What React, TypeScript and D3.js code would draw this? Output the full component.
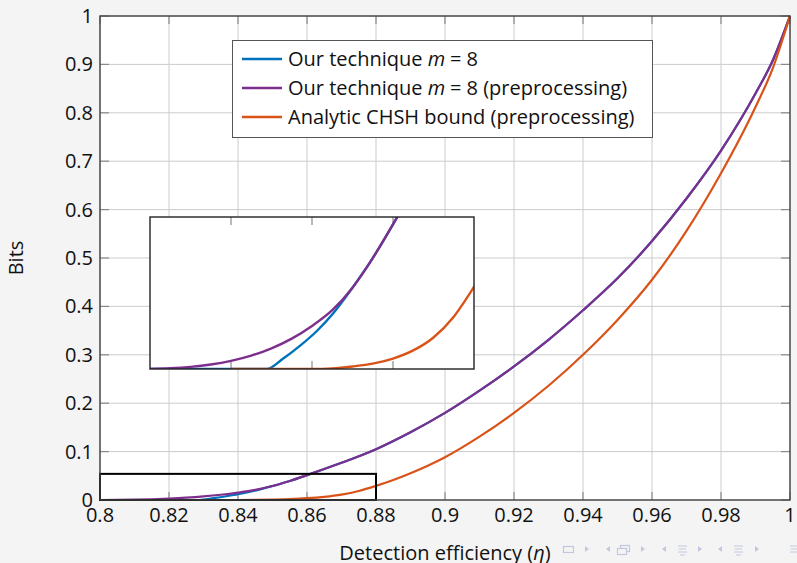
import React from 'react';
import * as d3 from 'd3';

const xTicks = [0.8, 0.82, 0.84, 0.86, 0.88, 0.9, 0.92, 0.94, 0.96, 0.98, 1];
const xTickLabels = ['0.8', '0.82', '0.84', '0.86', '0.88', '0.9', '0.92', '0.94', '0.96', '0.98', '1'];
const yTicks = [0, 0.1, 0.2, 0.3, 0.4, 0.5, 0.6, 0.7, 0.8, 0.9, 1];
const yTickLabels = ['0', '0.1', '0.2', '0.3', '0.4', '0.5', '0.6', '0.7', '0.8', '0.9', '1'];
const insetXTicks = [0.82, 0.84, 0.86];

const purpleEta = [0.8, 0.805, 0.81, 0.815, 0.82, 0.825, 0.83, 0.835, 0.84, 0.845, 0.85, 0.855, 0.86, 0.865, 0.87, 0.88, 0.89, 0.9, 0.91, 0.92, 0.93, 0.94, 0.95, 0.96, 0.97, 0.98, 0.99, 0.995, 1];
const purpleVal = [0, 0.00025, 0.00075, 0.0016, 0.0029, 0.00475, 0.00735, 0.0108, 0.0153, 0.0209, 0.0289, 0.0394, 0.0514, 0.0639, 0.0769, 0.105, 0.14, 0.18, 0.226, 0.276, 0.331, 0.392, 0.458, 0.535, 0.623, 0.722, 0.84, 0.908, 1];

const blueEta = [0.8, 0.8288, 0.8329, 0.837, 0.8412, 0.8453, 0.85, 0.855, 0.86, 0.865, 0.87, 0.88, 0.89, 0.9, 0.91, 0.92, 0.93, 0.94, 0.95, 0.96, 0.97, 0.98, 0.99, 0.995, 1];
const blueVal = [0, 0, 0.0037, 0.0082, 0.0135, 0.0199, 0.0289, 0.0394, 0.0514, 0.0639, 0.0769, 0.105, 0.14, 0.18, 0.226, 0.276, 0.331, 0.392, 0.458, 0.535, 0.623, 0.722, 0.84, 0.908, 1];

const orangeEta = [0.82, 0.84, 0.845, 0.85, 0.855, 0.86, 0.865, 0.87, 0.875, 0.88, 0.885, 0.89, 0.895, 0.9, 0.91, 0.92, 0.93, 0.94, 0.95, 0.96, 0.97, 0.98, 0.99, 0.995, 1];
const orangeVal = [0, 0, 0.0002, 0.0009, 0.0019, 0.0037, 0.0066, 0.0112, 0.0186, 0.0292, 0.0414, 0.0554, 0.071, 0.0885, 0.131, 0.18, 0.236, 0.3, 0.372, 0.455, 0.556, 0.675, 0.812, 0.892, 1];

const seriesNames = ['Our technique ', 'Our technique ', 'Analytic CHSH bound (preprocessing)'];
const seriesColors = ['#0072BD', '#7E2F8E', '#D95319'];

const FONT = '"Open Sans", sans-serif';
const FS = 20;
const W = 797, H = 563;
const L = 100, R = 790, T = 16, B = 500;
const IL = 150, IR = 474, IT = 217, IB = 369;
const ZOOM_X = [0.8, 0.88];
const ZOOM_Y = [0, 0.054];

export default function App() {
  const x = d3.scaleLinear().domain([0.8, 1]).range([L, R]);
  const y = d3.scaleLinear().domain([0, 1]).range([B, T]);
  const ix = d3.scaleLinear().domain(ZOOM_X).range([IL, IR]);
  const iy = d3.scaleLinear().domain(ZOOM_Y).range([IB, IT]);

  const series = [
    { eta: blueEta, val: blueVal },
    { eta: purpleEta, val: purpleVal },
    { eta: orangeEta, val: orangeVal },
  ];

  const mkLine = (sx: any, sy: any) =>
    d3.line<[number, number]>().x(d => sx(d[0])).y(d => sy(d[1])).curve(d3.curveMonotoneX);
  const mainLine = mkLine(x, y);
  const insetLine = mkLine(ix, iy);
  const pts = (s: { eta: number[]; val: number[] }) => s.eta.map((e, i) => [e, s.val[i]] as [number, number]);

  const navColor = '#c3c7de';

  return (
    <svg width={W} height={H} style={{ position: 'absolute', left: 0, top: 0 }} fontFamily={FONT}>
      <defs>
        <clipPath id="mainClip"><rect x={L} y={T - 2} width={R - L + 2} height={B - T + 4} /></clipPath>
        <clipPath id="insetClip"><rect x={IL} y={IT} width={IR - IL} height={IB - IT} /></clipPath>
      </defs>
      <rect x={0} y={0} width={W} height={H} fill="#f4f4f4" />
      <rect x={L} y={T} width={R - L} height={B - T} fill="#fff" />
      {/* grid */}
      {xTicks.map((t, i) => (
        <line key={'gx' + i} x1={x(t)} x2={x(t)} y1={T} y2={B} stroke="#cccccc" strokeWidth={1} />
      ))}
      {yTicks.map((t, i) => (
        <line key={'gy' + i} x1={L} x2={R} y1={y(t)} y2={y(t)} stroke="#cccccc" strokeWidth={1} />
      ))}
      {/* ticks inward */}
      {xTicks.map((t, i) => (
        <g key={'tx' + i} stroke="#8a8a8a" strokeWidth={1.2}>
          <line x1={x(t)} x2={x(t)} y1={B} y2={B - 8} />
          <line x1={x(t)} x2={x(t)} y1={T} y2={T + 8} />
        </g>
      ))}
      {yTicks.map((t, i) => (
        <g key={'ty' + i} stroke="#8a8a8a" strokeWidth={1.2}>
          <line x1={L} x2={L + 9} y1={y(t)} y2={y(t)} />
          <line x1={R} x2={R - 9} y1={y(t)} y2={y(t)} />
        </g>
      ))}
      {/* main curves */}
      <g clipPath="url(#mainClip)">
        {series.map((s, i) => (
          <path key={'m' + i} d={mainLine(pts(s)) || ''} fill="none" stroke={seriesColors[i]} strokeWidth={2.2} />
        ))}
      </g>
      {/* spy rectangle */}
      <rect x={x(ZOOM_X[0])} y={y(ZOOM_Y[1])} width={x(ZOOM_X[1]) - x(ZOOM_X[0])} height={y(ZOOM_Y[0]) - y(ZOOM_Y[1])}
        fill="none" stroke="#000" strokeWidth={2} />
      {/* frame */}
      <rect x={L} y={T} width={R - L} height={B - T} fill="none" stroke="#444" strokeWidth={1.4} />
      {/* tick labels */}
      {xTicks.map((t, i) => (
        <text key={'lx' + i} x={x(t)} y={522} textAnchor="middle" fontSize={FS} fill="#111">{xTickLabels[i]}</text>
      ))}
      {yTicks.map((t, i) => (
        <text key={'ly' + i} x={93} y={y(t) + 7} textAnchor="end" fontSize={FS} fill="#111">{yTickLabels[i]}</text>
      ))}
      {/* axis labels */}
      <text x={(L + R) / 2} y={560} textAnchor="middle" fontSize={FS} fill="#111">
        Detection efficiency (<tspan fontStyle="italic">η</tspan>)
      </text>
      <text transform={`translate(23,258) rotate(-90)`} textAnchor="middle" fontSize={FS} fill="#111">Bits</text>

      {/* inset */}
      <rect x={IL} y={IT} width={IR - IL} height={IB - IT} fill="#fff" />
      {insetXTicks.map((t, i) => (
        <g key={'itx' + i} stroke="#8a8a8a" strokeWidth={1.2}>
          <line x1={ix(t)} x2={ix(t)} y1={IT} y2={IT + 8} />
          <line x1={ix(t)} x2={ix(t)} y1={IB} y2={IB - 8} />
        </g>
      ))}
      <g clipPath="url(#insetClip)">
        {series.map((s, i) => (
          <path key={'i' + i} d={insetLine(pts(s)) || ''} fill="none" stroke={seriesColors[i]} strokeWidth={2.4} />
        ))}
      </g>
      <rect x={IL} y={IT} width={IR - IL} height={IB - IT} fill="none" stroke="#222" strokeWidth={1.4} />

      {/* legend */}
      <rect x={232.5} y={40.5} width={420} height={97} fill="#fff" stroke="#555" strokeWidth={1} />
      {seriesNames.map((n, i) => {
        const cy = 59 + i * 29;
        return (
          <g key={'lg' + i}>
            <line x1={242} x2={282} y1={cy} y2={cy} stroke={seriesColors[i]} strokeWidth={2.6} />
            <text x={288} y={cy + 7} fontSize={FS} fill="#111">
              {n}
              {i < 2 ? <tspan fontStyle="italic">m</tspan> : null}
              {i < 2 ? <tspan dx={5}>=</tspan> : null}
              {i < 2 ? <tspan dx={5}>8</tspan> : null}
              {i === 1 ? ' (preprocessing)' : null}
            </text>
          </g>
        );
      })}

      {/* navigation symbols */}
      <g fill="none" stroke={navColor} strokeWidth={1.2}>
        <rect x={563.5} y={546.5} width={10} height={6} />
        <rect x={620.5} y={545.5} width={9} height={6} />
        <rect x={617.5} y={548.5} width={9} height={6} fill="#f4f4f4" />
        <path d="M678 546 h9 M679 549 h7 M678 552 h9 M680 555 h5" />
        <path d="M734 546 h9 M735 549 h7 M734 552 h9 M736 555 h5" />
        <path d="M790 546 h7 M791 549 h6 M790 552 h7" />
      </g>
      <g fill={navColor}>
        <path d="M585 546 l4 3 l-4 3 z" />
        <path d="M610 546 l-4 3 l4 3 z" />
        <path d="M641 546 l4 3 l-4 3 z" />
        <path d="M666 546 l-4 3 l4 3 z" />
        <path d="M698 546 l4 3 l-4 3 z" />
        <path d="M722 546 l-4 3 l4 3 z" />
        <path d="M755 546 l4 3 l-4 3 z" />
      </g>
    </svg>
  );
}
